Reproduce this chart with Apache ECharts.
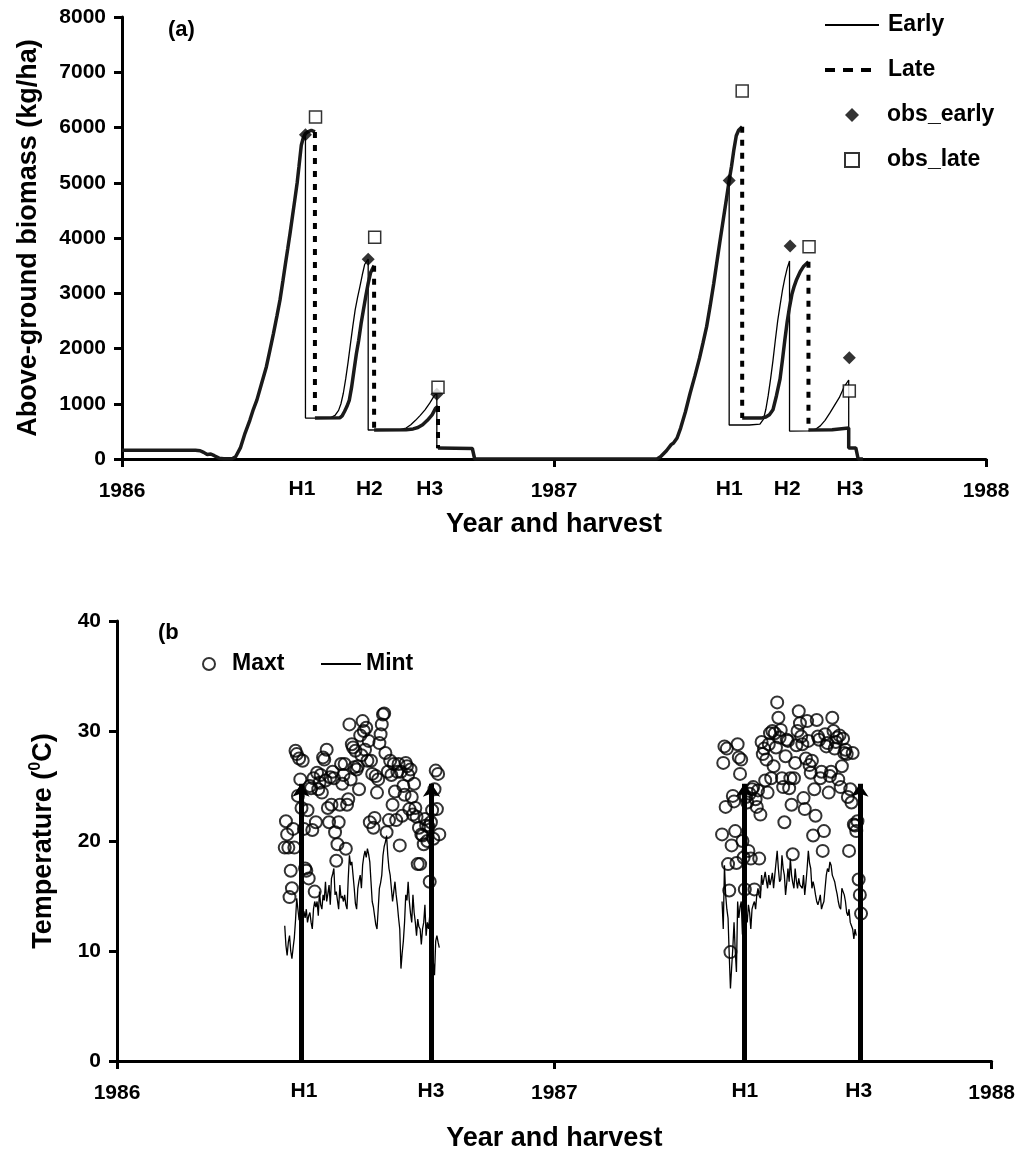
<!DOCTYPE html>
<html><head><meta charset="utf-8">
<script src="https://cdn.jsdelivr.net/npm/echarts@6.0.0/dist/echarts.min.js"></script>
<style>html,body{margin:0;padding:0;background:#fff}#c{width:1018px;height:1153px}</style>
</head><body><div id="c"></div>
<script>
// ---------- Panel (a): above-ground biomass (kg/ha), x = day since 1 Jan 1986 ----------
const earlyCurve = [
[0,160],[62,160],[66,150],[69,120],[72,80],[75,90],[78,60],[82,15],[86,5],[93,5],
[96,40],[100,200],[104,470],[108,700],[111,900],[114,1070],[118,1370],[122,1670],[125,1970],[128,2275],[131,2600],[133.5,2880],[136,3230],[138,3520],[140,3800],[142,4085],[144,4390],[146,4690],[148,5000],[149.5,5290],[151.5,5680],[153,5800],[155,5890],
[155,740],[170,740],[176,745],[180,790],[183,880],[185,1000],[187,1190],[189,1450],[191,1750],[193,2080],[195,2400],[197,2700],[199,2920],[201,3120],[203,3330],[205,3520],[208,3620],
[208,525],[235,530],[240,560],[244,620],[248,700],[252,790],[256,890],[260,1010],[264,1150],[266,1190],
[266,200],[296,190],[298,0],[452,0],[455,40],[460,150],[464,260],[466,290],[469,380],[472,560],[476,850],[480,1190],[484,1500],[488,1830],[491,2110],[494,2400],[497,2780],[500,3180],[503,3620],[505,3910],[508,4330],[511,4750],[513,5040],
[513,615],[530,615],[539,630],[542,720],[544,900],[546,1150],[548,1450],[550,1780],[552,2150],[554,2500],[556,2780],[558,3050],[560,3270],[562,3450],[564,3584],
[564,505],[580,510],[586,540],[590,600],[594,700],[598,830],[602,970],[606,1110],[610,1300],[614,1430],
[614,200],[620,200],[622,0],[626,0]
];
const lateCurve = [
[0,160],[62,160],[66,150],[69,120],[72,80],[75,90],[78,60],[82,15],[86,5],[93,5],
[96,40],[100,200],[104,470],[108,700],[111,900],[114,1070],[118,1370],[122,1670],[125,1970],[128,2275],[131,2600],[133.5,2880],[136,3230],[138,3520],[140,3800],[142,4085],[144,4390],[146,4690],[148,5000],[149.5,5290],[151.5,5680],[153,5800],[155,5890],[157,5920],[160,5950],[163,5920],
[163,740],[184,745],[186,780],[188,860],[190,950],[192,1060],[194,1300],[196,1600],[198,1900],[200,2150],[202,2450],[204,2700],[206,2950],[208,3180],[210,3370],[213,3500],
[213,525],[240,530],[246,545],[250,570],[254,620],[258,700],[262,800],[265,920],[267,960],
[267,200],[296,190],[298,0],[452,0],[455,40],[460,150],[464,260],[466,290],[469,380],[472,560],[476,850],[480,1190],[484,1500],[488,1830],[491,2110],[494,2400],[497,2780],[500,3180],[503,3620],[505,3910],[508,4330],[511,4750],[513,5040],[515,5300],[517,5600],[519,5850],[521,5950],[524,6015],
[524,740],[540,740],[544,760],[547,800],[550,890],[553,1150],[556,1450],[558,1790],[560,2150],[562,2480],[564,2750],[566,2980],[568,3130],[570,3250],[573,3390],[576,3490],[580,3570],
[580,525],[600,530],[614,560],
[614,200],[620,200],[622,0],[626,0]
];
const obsEarly = [[155,5870],[208,3614],[266,1170],[513,5040],[564.5,3855],[614.5,1834]];
const obsLate  = [[163.5,6190],[213.5,4012],[267,1297],[524,6660],[580.5,3843],[614.5,1230]];
const topTickDays = [0,365,730];
const topLabelDays = [0,152,209,260,365,513,562,615,730];
const topLabels = ['1986','H1','H2','H3','1987','H1','H2','H3','1988'];

// ---------- Panel (b): daily temperature (°C) ----------
const maxt1Start = 140;
const maxt1 = [
19.4,21.8,20.6,19.4,14.9,17.3,15.7,21.1,19.4,28.2,
27.9,24.1,27.5,25.6,23.0,27.3,21.1,17.5,17.3,22.8,
16.6,25.0,24.8,21.0,25.7,15.4,21.7,26.2,24.7,25.3,
26.0,24.4,27.6,27.4,25.5,28.3,23.0,21.7,25.8,23.3,
26.3,25.7,20.8,18.2,19.7,21.7,23.3,27.0,25.2,26.0,
27.0,19.3,23.3,23.8,30.6,25.6,28.8,28.5,26.7,28.2,
26.5,26.8,24.7,29.6,27.8,30.9,30.0,28.3,30.3,27.3,
29.1,21.7,27.3,26.1,21.2,22.1,25.9,24.4,25.6,28.9,
29.7,30.6,31.5,31.6,28.0,20.8,26.3,21.9,27.3,26.0,
23.3,27.0,24.5,21.9,26.3,27.0,19.6,26.3,22.3,25.0,
24.2,27.1,26.8,26.0,22.9,26.5,24.0,22.4,25.2,23.0,
22.2,17.9,21.2,17.9,20.6,20.5,19.7,22.0,21.4,20.0,
21.3,16.3,21.7,22.8,20.2,24.7,26.4,22.9,26.1,20.6
];
const mint1Start = 140;
const mint1 = [
12.3,10.5,9.6,10.8,11.4,10.0,9.3,10.3,11.2,12.8,
14.8,13.8,12.8,13.6,14.2,12.9,13.6,13.0,13.8,12.6,
13.2,13.5,12.6,12.0,13.8,14.5,14.0,14.5,13.2,15.4,
14.2,13.8,15.1,14.6,16.3,14.5,15.2,16.0,14.2,16.6,
17.0,17.5,15.1,15.4,14.6,13.8,16.0,14.8,15.0,14.5,
15.1,14.2,13.8,16.6,18.7,17.8,18.1,18.0,15.7,14.3,
13.8,15.7,16.4,16.9,15.7,17.8,18.6,19.1,18.5,19.3,
18.8,18.1,16.3,14.5,14.0,13.2,12.4,12.0,13.8,15.7,
16.2,16.9,18.7,19.5,19.9,20.5,18.7,17.5,16.9,15.7,
14.5,15.4,16.3,15.1,14.2,13.0,12.0,8.4,9.8,10.9,
12.6,15.1,14.6,16.3,14.5,13.4,12.6,15.1,13.5,12.6,
11.4,12.9,12.2,12.0,10.6,12.0,12.6,14.2,11.4,12.6,
12.0,13.2,11.8,10.0,9.0,7.8,10.9,11.4,10.8,10.3
];
const maxt2Start = 505;
const maxt2 = [
20.6,27.1,28.6,23.1,28.4,17.9,15.5,9.9,19.6,24.1,
23.6,20.9,18.0,28.8,27.6,26.1,27.4,20.0,18.5,15.6,
24.0,23.5,19.1,24.3,18.4,24.7,24.9,15.6,23.8,23.1,
24.6,18.4,22.4,29.0,27.9,28.4,25.5,27.4,24.4,28.8,
29.8,25.7,30.0,26.8,29.8,28.5,32.6,31.2,29.4,30.1,
25.7,24.9,21.7,27.7,29.2,29.1,24.8,25.7,23.3,18.8,
25.7,27.1,28.7,30.0,31.8,30.7,29.5,28.8,23.9,22.9,
27.5,30.9,29.1,26.9,26.2,27.3,20.5,24.7,22.3,31.0,
29.5,29.2,25.7,26.3,19.1,20.9,29.7,28.6,28.9,24.4,
25.9,26.3,31.2,30.0,28.4,29.0,29.4,25.6,29.6,24.9,
26.8,29.3,28.0,28.3,27.9,24.0,19.1,24.7,23.5,28.0,
21.5,21.4,20.9,21.8,16.5,15.1,13.4
];
const mint2Start = 505;
const mint2 = [
14.5,12.0,17.8,15.1,13.8,13.0,9.6,6.6,8.5,10.3,
12.6,10.0,8.1,14.5,13.0,14.0,14.5,11.5,13.2,12.4,
13.6,12.6,14.2,13.5,12.0,13.8,14.2,14.5,13.8,15.1,
15.7,15.0,14.8,16.9,16.0,16.0,17.2,16.4,15.7,16.9,
16.0,16.5,17.1,15.7,16.9,18.0,19.1,17.5,16.3,16.5,
18.7,17.5,16.9,15.1,16.2,17.5,16.3,18.4,16.9,16.2,
15.7,17.5,16.4,15.7,16.6,16.0,15.9,15.7,16.9,15.1,
16.2,17.5,19.1,18.0,17.5,15.7,16.3,15.8,15.1,14.5,
14.2,14.6,15.1,13.8,14.2,14.5,15.7,16.9,17.5,17.2,
18.1,17.8,16.9,16.6,16.3,15.7,15.2,14.5,14.0,13.8,
15.7,15.4,15.1,14.5,13.5,13.2,13.8,12.6,12.3,12.0,
11.1,12.0,11.4
];
const harvestArrowDays = [153.6,262.5,523.6,620];
const arrowTop = 25.2;
const bottomTickDays = [0,365,730];
const bottomLabelDays = [0,156,262,365,524,619,730];
const bottomLabels = ['1986','H1','H3','1987','H1','H3','1988'];

// ---------- build ----------
const FONT = '"Liberation Sans", Arial, sans-serif';
function splitHarvest(curve, minDrop){
  const solid = [], drops = [];
  for (let i = 0; i < curve.length; i++){
    const p = curve[i], prev = curve[i-1];
    if (prev && p[0] === prev[0] && prev[1] - p[1] >= minDrop){
      solid.push([p[0], '-']);
      drops.push([prev[0], prev[1]], [p[0], p[1]], [p[0], '-']);
    }
    solid.push(p);
  }
  return {solid, drops};
}
const lateParts = splitHarvest(lateCurve, 400);
function daily(start, vals){ return vals.map((v,i)=>[start+i, v]); }
const maxtData = daily(maxt1Start, maxt1).concat(daily(maxt2Start, maxt2));
const mintData = daily(mint1Start, mint1).concat([[300,'-']], daily(mint2Start, mint2));
function labelFor(days, labels){
  return v => {
    const i = days.findIndex(d => Math.abs(d - v) < 0.01);
    if (i < 0) return '';
    return /^H/.test(labels[i]) ? '{h|' + labels[i] + '}' : '{yr|' + labels[i] + '}';
  };
}
const axisCommon = {
  axisLine: {onZero:false, lineStyle:{color:'#000', width:3}},
  splitLine: {show:false},
};
const labelStyle = {color:'#000', fontSize:21, fontWeight:'bold', fontFamily:FONT};
const xRich = {
  h:{color:'#000', fontSize:21, fontWeight:'bold', fontFamily:FONT, lineHeight:24},
  yr:{color:'#000', fontSize:21, fontWeight:'bold', fontFamily:FONT, lineHeight:24, padding:[4,0,0,0]}
};
const nameStyle = {color:'#000', fontSize:27, fontWeight:'bold', fontFamily:FONT};
const legendText = {color:'#000', fontSize:23, fontWeight:'bold', fontFamily:FONT, lineHeight:24};
const hidden = {opacity:0};
const noFill = 'rgba(0,0,0,0)';

const chart = echarts.init(document.getElementById('c'), null, {renderer:'canvas'});
chart.setOption({
  animation:false,
  backgroundColor:'#fff',
  textStyle:{fontFamily:FONT},
  grid:[
    {left:122, top:17, width:864, height:442},
    {left:117, top:621, width:878, height:442}
  ],
  xAxis:[
    Object.assign({}, axisCommon, {
      type:'value', gridIndex:0, min:0, max:730,
      axisTick:{customValues:topTickDays, length:8, lineStyle:{color:'#000', width:3}},
      axisLabel:Object.assign({}, labelStyle, {customValues:topLabelDays, margin:18, rich:xRich, formatter:labelFor(topLabelDays, topLabels)}),
      name:'Year and harvest', nameLocation:'middle', nameGap:52, nameTextStyle:nameStyle
    }),
    Object.assign({}, axisCommon, {
      type:'value', gridIndex:1, min:0, max:730,
      axisTick:{customValues:bottomTickDays, length:8, lineStyle:{color:'#000', width:3}},
      axisLabel:Object.assign({}, labelStyle, {customValues:bottomLabelDays, margin:18, rich:xRich, formatter:labelFor(bottomLabelDays, bottomLabels)}),
      name:'Year and harvest', nameLocation:'middle', nameGap:64, nameTextStyle:nameStyle
    })
  ],
  yAxis:[
    Object.assign({}, axisCommon, {
      type:'value', gridIndex:0, min:0, max:8000, interval:1000,
      axisTick:{length:8, lineStyle:{color:'#000', width:3}},
      axisLabel:Object.assign({}, labelStyle, {margin:16, formatter:v => String(v)}),
      name:'Above-ground biomass (kg/ha)', nameLocation:'middle', nameGap:80, nameRotate:90, nameTextStyle:nameStyle
    }),
    Object.assign({}, axisCommon, {
      type:'value', gridIndex:1, min:0, max:40, interval:10,
      axisTick:{length:8, lineStyle:{color:'#000', width:3}},
      axisLabel:Object.assign({}, labelStyle, {margin:16, formatter:v => String(v)}),
      name:'Temperature ({sup|0}C)', nameLocation:'middle', nameGap:57, nameRotate:90,
      nameTextStyle:Object.assign({}, nameStyle, {lineHeight:32, rich:{sup:{fontSize:16, fontWeight:'bold', fontFamily:FONT, color:'#000', lineHeight:16, verticalAlign:'top'}}})
    })
  ],
  legend:[
    {
      orient:'vertical', left:818, top:8, itemWidth:54, itemHeight:14, itemGap:21,
      textStyle:Object.assign({}, legendText, {padding:[0,0,0,4]}),
      data:[{name:'Early', itemStyle:hidden}, {name:'Late', itemStyle:hidden, lineStyle:{type:[10,8], width:4, color:'#000'}}]
    },
    {
      orient:'vertical', left:839, top:98, itemWidth:14, itemHeight:14, itemGap:21,
      textStyle:Object.assign({}, legendText, {padding:[0,0,0,23]}),
      data:['obs_early', 'obs_late']
    },
    {
      orient:'horizontal', left:197, top:647, itemWidth:12, itemHeight:12,
      textStyle:Object.assign({}, legendText, {padding:[0,0,0,12]}),
      data:['Maxt']
    },
    {
      orient:'horizontal', left:315, top:647, itemWidth:40, itemHeight:12,
      textStyle:legendText,
      data:[{name:'Mint', itemStyle:hidden}]
    }
  ],
  graphic:[
    {type:'text', left:168, top:19, style:{text:'(a)', fill:'#000', font:'bold 22px '+FONT}},
    {type:'text', left:158, top:622, style:{text:'(b', fill:'#000', font:'bold 22px '+FONT}}
  ],
  series:[
    {name:'Early', type:'line', xAxisIndex:0, yAxisIndex:0, data:earlyCurve, symbol:'none', z:2,
      itemStyle:{color:noFill}, lineStyle:{color:'#000', width:1.3}},
    {name:'Late growth', type:'line', xAxisIndex:0, yAxisIndex:0, data:lateParts.solid, symbol:'none', connectNulls:false, z:3,
      itemStyle:{color:noFill}, lineStyle:{color:'#1a1a1a', width:3.5}},
    {name:'Late', type:'line', xAxisIndex:0, yAxisIndex:0, data:lateParts.drops, symbol:'none', connectNulls:false, z:3,
      itemStyle:{color:noFill}, lineStyle:{color:'#000', width:4, type:[6,7]}},
    {name:'obs_early', type:'scatter', xAxisIndex:0, yAxisIndex:0, data:obsEarly, symbol:'diamond', symbolSize:13, z:5,
      itemStyle:{color:'#000'}},
    {name:'obs_late', type:'scatter', xAxisIndex:0, yAxisIndex:0, data:obsLate, symbol:'rect', symbolSize:12, z:5,
      itemStyle:{color:'#fff', borderColor:'#000', borderWidth:1.5}},
    {name:'Maxt', type:'scatter', xAxisIndex:1, yAxisIndex:1, data:maxtData, symbol:'circle', symbolSize:12, z:3,
      itemStyle:{color:noFill, borderColor:'#000', borderWidth:2}},
    {name:'Mint', type:'line', xAxisIndex:1, yAxisIndex:1, data:mintData, symbol:'none', connectNulls:false, z:2,
      itemStyle:{color:noFill}, lineStyle:{color:'#000', width:1.3}},
    {name:'harvest', type:'lines', coordinateSystem:'cartesian2d', xAxisIndex:1, yAxisIndex:1, z:6,
      symbol:['none','arrow'], symbolSize:13,
      lineStyle:{color:'#000', width:5, opacity:1},
      data:harvestArrowDays.map(d => ({coords:[[d,0],[d,arrowTop]]}))}
  ]
});
</script>
</body></html>
